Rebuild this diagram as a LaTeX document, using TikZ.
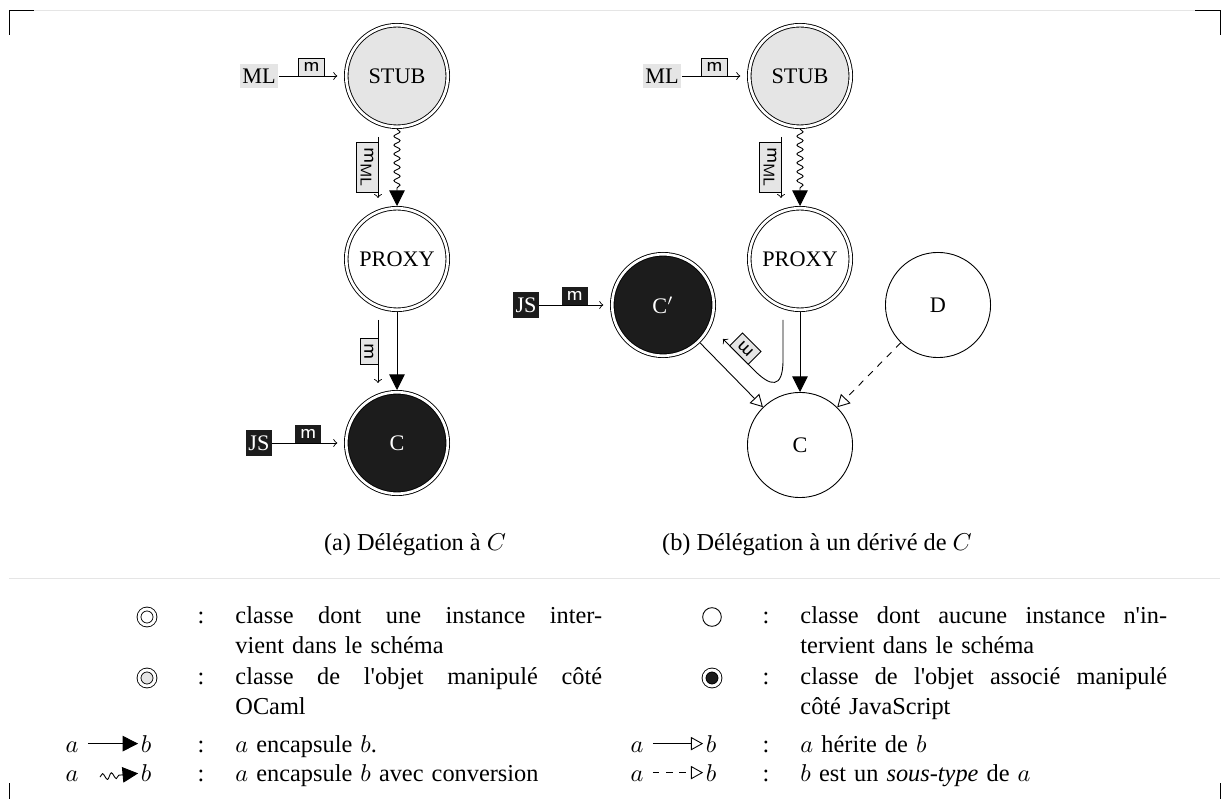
\documentclass[tikz,border=0pt,11pt]{standalone}
\usepackage{fontspec}
\setmainfont{Liberation Serif}
\usetikzlibrary{arrows.meta,decorations.pathmorphing}
\definecolor{mlgray}{gray}{0.9}
\definecolor{jsblack}{gray}{0.11}
\definecolor{rulegray}{gray}{0.9}
\newcommand{\keyline}[1]{\makebox[165pt][s]{#1}}

\begin{document}
\begin{tikzpicture}[x=0.45pt,y=-0.45pt,>=to,line width=0.4pt,
    obj/.style={circle,draw,double,double distance=1.2pt,minimum size=45.7pt,inner sep=0pt,outer sep=1pt,font=\small},
    cls/.style={circle,draw,minimum size=47.3pt,inner sep=0pt,font=\small},
    mlobj/.style={obj,fill=mlgray},
    jsobj/.style={obj,fill=jsblack,text=white},
    mlbox/.style={fill=mlgray,minimum width=17.5pt,minimum height=10.8pt,inner sep=0pt,font=\small},
    jsbox/.style={fill=jsblack,text=white,minimum width=11.7pt,minimum height=12pt,inner sep=0pt,font=\small},
    msg/.style={draw,fill=mlgray,font=\sffamily\footnotesize,inner xsep=2.2pt,inner ysep=2pt,outer sep=0pt},
    jsmsg/.style={fill=jsblack,text=white,font=\sffamily\footnotesize,inner xsep=2.2pt,inner ysep=2pt,outer sep=0pt},
    call/.style={->,shorten >=3pt},
    encaps/.style={-{Triangle[length=7pt,width=7pt]}},
    conv/.style={encaps,decorate,decoration={snake,amplitude=1.4pt,segment length=4pt,post length=7.5pt}},
    inherit/.style={-{Triangle[open,length=5.5pt,width=6pt]}},
    subtype/.style={inherit,dashed},
    keyobj/.style={circle,draw,double,double distance=1.3pt,minimum size=7.2pt,inner sep=0pt},
    keycls/.style={circle,draw,minimum size=8.4pt,inner sep=0pt},
    keyend/.style={anchor=base,text height=1.5ex,text depth=0pt,inner sep=1pt},
    keytext/.style={anchor=base west,text width=165pt,align=left,inner sep=0pt}]

    % frame
    \draw[rulegray] (9,10) -- (1220,10);
    \draw[rulegray] (9,578) -- (1220,578);
    \draw (9,35) -- (9,10) -- (34,10);
    \draw (1195,10) -- (1220,10) -- (1220,35);
    \draw (9,783) -- (9,799);
    \draw (1220,783) -- (1220,799);

    % (a) delegation to C
    \node[mlobj] (stuba) at (397,76) {STUB};
    \node[obj] (proxya) at (397,259) {PROXY};
    \node[jsobj] (ca) at (397,443) {C};
    \node[mlbox] (mla) at (259,76) {ML};
    \node[jsbox] (jsa) at (259,443) {JS};
    \coordinate (mla1) at (378,137);
    \coordinate (mla2) at (378,198);
    \coordinate (ma1) at (378,320);
    \coordinate (ma2) at (378,383);
    \draw[call] (mla) -- node[msg,above] {m} (stuba);
    \draw[call] (jsa) -- node[jsmsg,above] {m} (ca);
    \draw[conv] (stuba) -- (proxya);
    \draw[encaps] (proxya) -- (ca);
    \draw[->] (mla1) -- node[msg,sloped,below] {m\textsubscript{\fontsize{7}{8}\selectfont ML}} (mla2);
    \draw[->] (ma1) -- node[msg,sloped,below] {m} (ma2);
    \node[anchor=base] (capa) at (415,550) {(a) Délégation à $C$};

    % (b) delegation to a subclass of C
    \node[mlobj] (stubb) at (800,76) {STUB};
    \node[obj] (proxyb) at (800,259) {PROXY};
    \node[jsobj] (cp) at (663,305) {C$'$};
    \node[cls] (d) at (938,305) {D};
    \node[cls] (cb) at (800,445) {C};
    \node[mlbox] (mlb) at (662,76) {ML};
    \node[jsbox] (jsb) at (526,305) {JS};
    \coordinate (mlb1) at (781,137);
    \coordinate (mlb2) at (781,198);
    \coordinate (mb1) at (783,320);
    \coordinate (mb2) at (723,339);
    \draw[call] (mlb) -- node[msg,above] {m} (stubb);
    \draw[call] (jsb) -- node[jsmsg,above] {m} (cp);
    \draw[conv] (stubb) -- (proxyb);
    \draw[encaps] (proxyb) -- (cb);
    \draw[->] (mlb1) -- node[msg,sloped,below] {m\textsubscript{\fontsize{7}{8}\selectfont ML}} (mlb2);
    \draw[->] (mb1) -- (783,360) .. controls (783,390) and (770,386) .. (755,371)
        -- node[msg,sloped,below,allow upside down] {m} (mb2);
    \draw[inherit] (cp) -- (cb);
    \draw[subtype] (d) -- (cb);
    \node[anchor=base] (capb) at (817,550) {(b) Délégation à un dérivé de $C$};

    % legend, left column
    \node[keyobj] (kobj) at (147,617) {};
    \node[anchor=base] (kc1) at (201,623) {:};
    \node[keytext] (kt1) at (235,623) {\keyline{classe \hfill dont \hfill une \hfill instance \hfill inter-}\\vient dans le schéma};
    \node[keyobj,fill=mlgray] (kml) at (147,678) {};
    \node[anchor=base] (kc2) at (201,684) {:};
    \node[keytext] (kt2) at (235,684) {\keyline{classe \hfill de \hfill l\textquotesingle objet \hfill manipulé \hfill côté}\\OCaml};
    \node[keyend] (ka3) at (72,752) {$a$};
    \node[keyend] (kb3) at (146,752) {$b$};
    \draw[encaps,shorten <=3pt] (ka3) -- (kb3);
    \node[anchor=base] (kc3) at (201,752) {:};
    \node[keytext] (kt3) at (235,752) {$a$ encapsule $b$.};
    \node[keyend] (ka4) at (72,781) {$a$};
    \node[keyend] (kb4) at (146,781) {$b$};
    \coordinate (kw4) at (100,777);
    \draw[conv] (kw4) -- (kb4);
    \node[anchor=base] (kc4) at (201,781) {:};
    \node[keytext] (kt4) at (235,781) {$a$ encapsule $b$ avec conversion};

    % legend, right column
    \node[keycls] (kcls) at (712,617) {};
    \node[anchor=base] (kc5) at (766,623) {:};
    \node[keytext] (kt5) at (800,623) {\keyline{classe \hfill dont \hfill aucune \hfill instance \hfill n\textquotesingle in-}\\tervient dans le schéma};
    \node[keyobj,fill=jsblack] (kjs) at (712,678) {};
    \node[anchor=base] (kc6) at (766,684) {:};
    \node[keytext] (kt6) at (800,684) {\keyline{classe \hfill de \hfill l\textquotesingle objet \hfill associé \hfill manipulé}\\côté JavaScript};
    \node[keyend] (ka7) at (637,752) {$a$};
    \node[keyend] (kb7) at (711,752) {$b$};
    \draw[inherit,shorten <=3pt] (ka7) -- (kb7);
    \node[anchor=base] (kc7) at (766,752) {:};
    \node[keytext] (kt7) at (800,752) {$a$ hérite de $b$};
    \node[keyend] (ka8) at (637,781) {$a$};
    \node[keyend] (kb8) at (711,781) {$b$};
    \draw[subtype,shorten <=3pt] (ka8) -- (kb8);
    \node[anchor=base] (kc8) at (766,781) {:};
    \node[keytext] (kt8) at (800,781) {$b$ est un \emph{sous-type} de $a$};

    \useasboundingbox (0,0) rectangle (1222,799);
\end{tikzpicture}
\end{document}
